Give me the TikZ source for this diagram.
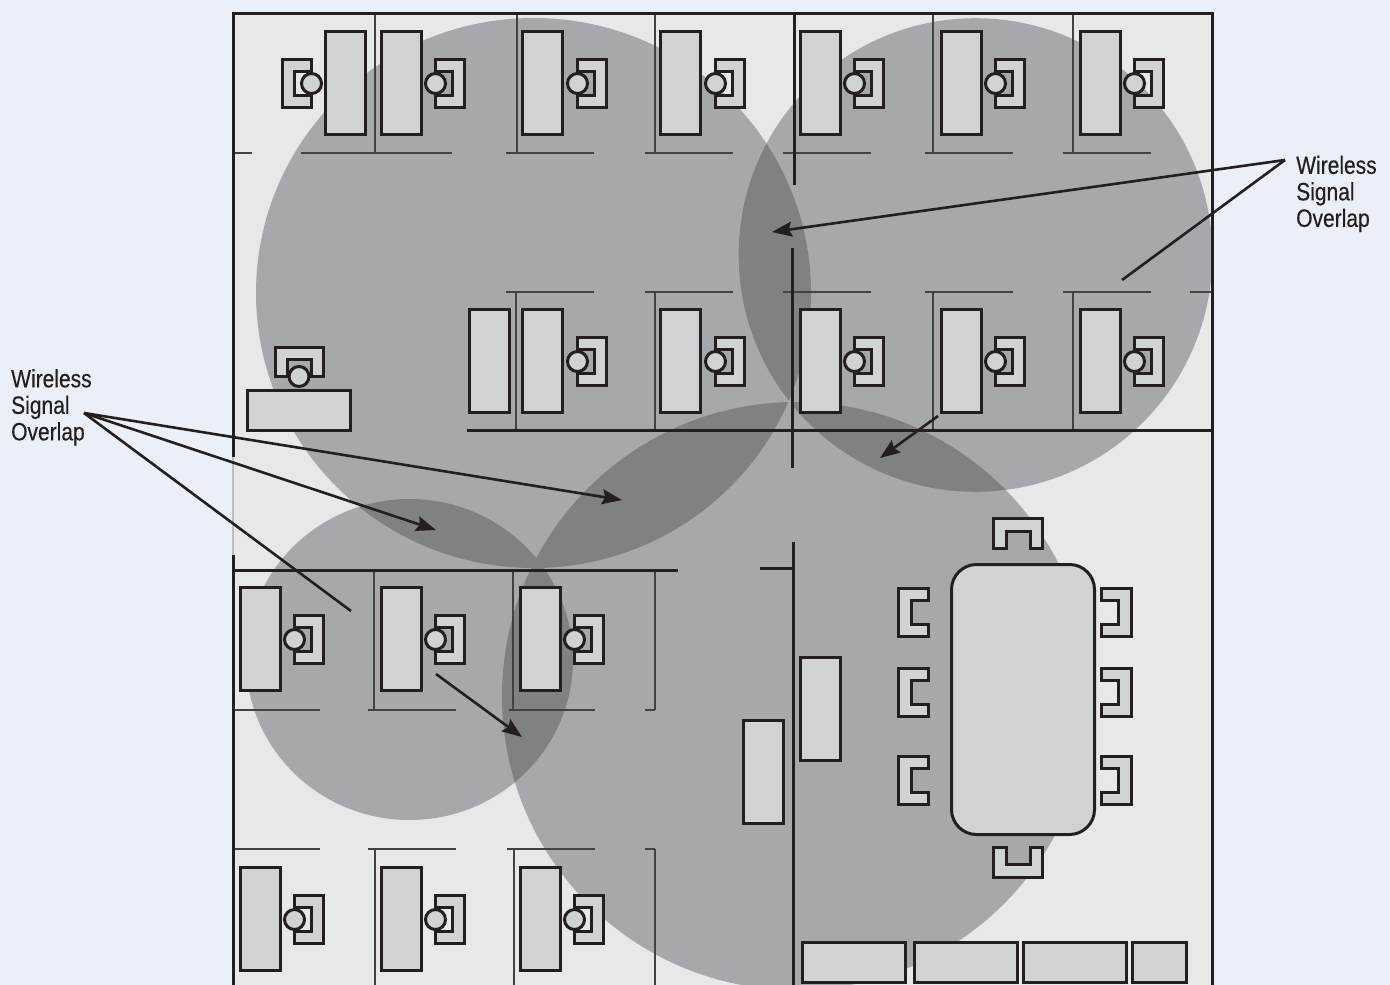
\documentclass[tikz,border=0pt]{standalone}
\usepackage{fontspec}
\setmainfont[FakeStretch=0.84,FakeBold=0.3]{Liberation Sans}
\usetikzlibrary{arrows.meta}
\definecolor{pagebg}{HTML}{EBF0F8}
\definecolor{floorc}{HTML}{E7E9E8}
\definecolor{sigc}{HTML}{A7A8AC}
\definecolor{overc}{HTML}{808185}
\definecolor{furn}{HTML}{D1D2D4}
\definecolor{inkc}{HTML}{231F20}
\tikzset{
  x=1pt,y=-1pt,
  wall/.style={draw=inkc,line width=3pt},
  part/.style={draw=inkc!85,line width=1.4pt},
  item/.style={draw=inkc,fill=furn,line width=3pt,line join=miter},
  lead/.style={draw=inkc,line width=2.6pt},
  leadarrow/.style={lead,-{Stealth[length=20pt,width=15pt,inset=3pt]}},
  caption/.style={font=\fontsize{25}{26.5}\selectfont,text=inkc,align=left,inner sep=0pt,anchor=north west}
}
% chairs: circle centre (#1,#2)
\newcommand{\chairR}[2]{%
  \draw[item] (#1,#2-24) -- ++(29,0) -- ++(0,48) -- ++(-29,0) -- ++(0,-12) -- ++(17,0) -- ++(0,-24) -- ++(-17,0) -- cycle;
  \draw[item] (#1,#2) circle[radius=10];}
\newcommand{\chairL}[2]{%
  \draw[item] (#1,#2-24) -- ++(-29,0) -- ++(0,48) -- ++(29,0) -- ++(0,-12) -- ++(-17,0) -- ++(0,-24) -- ++(17,0) -- cycle;
  \draw[item] (#1,#2) circle[radius=10];}
\newcommand{\desk}[2]{\draw[item] (#1,#2) rectangle ++(40,103);}
\newcommand{\confL}[1]{\draw[item] (929,#1) -- ++(-30,0) -- ++(0,48) -- ++(30,0) -- ++(0,-12) -- ++(-17,0) -- ++(0,-24) -- ++(17,0) -- cycle;}
\newcommand{\confR}[1]{\draw[item] (1102,#1) -- ++(30,0) -- ++(0,48) -- ++(-30,0) -- ++(0,-12) -- ++(17,0) -- ++(0,-24) -- ++(-17,0) -- cycle;}
\newcommand{\sigTL}{(533.5,293) ellipse[x radius=277.5,y radius=275]}
\newcommand{\sigTR}{(975.5,255) circle[radius=236.8]}
\newcommand{\sigSM}{(409.5,659.5) ellipse[x radius=163.5,y radius=160.5]}
\newcommand{\sigBG}{(796,696) circle[radius=294]}
\begin{document}
\begin{tikzpicture}
\useasboundingbox (0,0) rectangle (1390,985);
\fill[pagebg] (0,0) rectangle (1390,985);
\begin{scope}
\clip (233,13) rectangle (1212,985);
\fill[floorc] (233,13) rectangle (1212,985);
\fill[sigc] \sigTL; \fill[sigc] \sigTR; \fill[sigc] \sigSM; \fill[sigc] \sigBG;
\begin{scope}\clip \sigTL; \fill[overc] \sigTR; \fill[overc] \sigBG; \fill[overc] \sigSM;\end{scope}
\begin{scope}\clip \sigTR; \fill[overc] \sigBG;\end{scope}
\begin{scope}\clip \sigSM; \fill[overc] \sigBG;\end{scope}
\end{scope}
% thin partitions
\foreach \a/\b in {233/252,301/452,506/594,645/733,783/871,925/1013,1063/1151}
  {\draw[part] (\a,153) -- (\b,153);}
\foreach \a/\b in {506/594,645/733,783/871,925/1013,1063/1151,1190/1212}
  {\draw[part] (\a,292) -- (\b,292);}
\foreach \a/\b in {233/320,368/456,509/595,645/655}
  {\draw[part] (\a,710) -- (\b,710);}
\foreach \a/\b in {233/320,368/456,507/595,645/655}
  {\draw[part] (\a,849) -- (\b,849);}
\foreach \x in {375,517,655,933,1073} {\draw[part] (\x,13) -- (\x,153);}
\foreach \x in {516,655,933,1073} {\draw[part] (\x,292) -- (\x,431);}
\foreach \x in {374,513,655} {\draw[part] (\x,570) -- (\x,710);}
\foreach \x in {375,514,655} {\draw[part] (\x,849) -- (\x,985);}
% walls
\draw[draw=sigc!70!pagebg,line width=1.5pt] (233,455) -- (233,555);
\draw[wall,line cap=rect] (233,455) -- (233,13) -- (1212,13) -- (1212,985);
\draw[wall] (233,555) -- (233,985);
\draw[wall] (794,13) -- (794,185);
\draw[wall] (792,248) -- (792,468);
\draw[wall] (793,542) -- (793,985);
\draw[wall] (467,430.5) -- (1212,430.5);
\draw[wall] (233,570.5) -- (678,570.5);
\draw[wall] (760,568) -- (793,568);
% furniture
\begin{scope}[shift={(-0.5,-0.5)}]
\foreach \x in {326,382,523,661,801,942,1081} {\desk{\x}{32}}
\foreach \x in {470,523,661,801,942,1081} {\desk{\x}{310}}
\foreach \x in {241,382,521} {\desk{\x}{588}}
\foreach \x in {241,382,521} {\desk{\x}{868}}
\chairL{312}{84}
\foreach \x in {436,578,716,855,996,1135} {\chairR{\x}{84}}
\foreach \x in {578,716,855,996,1135} {\chairR{\x}{362}}
\foreach \x in {295,436,575} {\chairR{\x}{640}}
\foreach \x in {295,436,575} {\chairR{\x}{920}}
% reception
\draw[item] (248,391) rectangle (351,431);
\draw[item] (288,377) -- (276,377) -- (276,348) -- (324,348) -- (324,377) -- (312,377) -- (312,360) -- (288,360) -- cycle;
\draw[item] (299.5,377) circle[radius=10];
% conference room
\draw[item,rounded corners=25pt] (952,565) rectangle (1095,835);
\draw[item] (994,549) -- (994,519) -- (1043,519) -- (1043,549) -- (1031,549) -- (1031,532) -- (1007,532) -- (1007,549) -- cycle;
\draw[item] (994,848) -- (994,878) -- (1043,878) -- (1043,848) -- (1031,848) -- (1031,865) -- (1007,865) -- (1007,848) -- cycle;
\foreach \y in {589,669,757} {\confL{\y}\confR{\y}}
% free-standing units
\desk{801}{658}
\desk{744}{721}
\draw[item] (803,943) rectangle (906,983);
\draw[item] (915,943) rectangle (1018,983);
\draw[item] (1024,943) rectangle (1127,983);
\draw[item] (1133,943) rectangle (1187,983);
\end{scope}
% labels
\node[caption] (capL) at (11,369) {Wireless\\Signal\\Overlap};
\node[caption] (capR) at (1296,155.5) {Wireless\\Signal\\Overlap};
% leaders
\coordinate (hubL) at (84,413);
\coordinate (hubR) at (1285,160);
\coordinate (tipA) at (622,500);
\coordinate (tipB) at (436,530);
\coordinate (endC) at (351,611);
\coordinate (tipD) at (772,232);
\coordinate (endE) at (1122,280);
\coordinate (fromF) at (436,674);
\coordinate (tipF) at (522,737);
\coordinate (fromG) at (938,416);
\coordinate (tipG) at (880,458);
\draw[leadarrow] (hubL) -- (tipA);
\draw[leadarrow] (hubL) -- (tipB);
\draw[lead] (hubL) -- (endC);
\draw[leadarrow] (hubR) -- (tipD);
\draw[lead] (hubR) -- (endE);
\draw[leadarrow] (fromF) -- (tipF);
\draw[leadarrow] (fromG) -- (tipG);
\end{tikzpicture}
\end{document}
